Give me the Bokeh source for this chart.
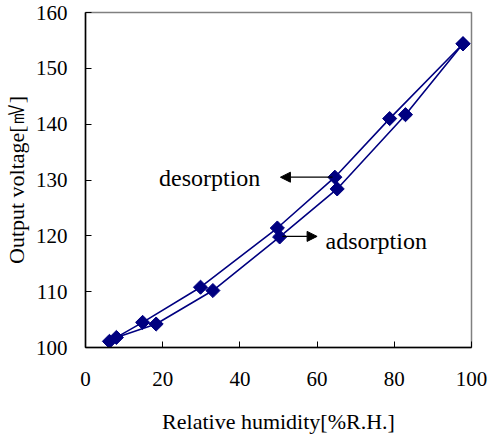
import math
from bokeh.plotting import figure
from bokeh.models import Arrow, NormalHead, Range1d, FixedTicker, ColumnDataSource
from bokeh.core.properties import value
from bokeh.embed import file_html
from bokeh.resources import INLINE

# Data
desorption_rh = [6.2, 14.8, 29.8, 49.7, 64.6, 78.8, 97.8]
desorption_mv = [101.1, 104.5, 110.8, 121.4, 130.5, 141.0, 154.4]
adsorption_rh = [8.0, 18.3, 33.0, 50.3, 65.2, 82.9, 97.8]
adsorption_mv = [101.8, 104.2, 110.2, 119.8, 128.4, 141.7, 154.4]

x_ticks = [0, 20, 40, 60, 80, 100]
y_ticks = [100, 110, 120, 130, 140, 150, 160]

labels = ["desorption", "adsorption"]
label_x = [45.3, 62.2]
label_y = [130.3, 119.0]
label_align = ["right", "left"]

arrow_start_x = [64.0, 51.0]
arrow_end_x = [50.5, 60.0]
arrow_y = [130.5, 119.9]

FONT = "'Liberation Serif', 'Times New Roman', serif"
NAVY = "#000080"

p = figure(width=488, height=437, output_backend="svg", toolbar_location=None,
           x_range=Range1d(0, 100), y_range=Range1d(100, 160),
           min_border_left=85, min_border_right=17, min_border_top=12,
           min_border_bottom=90)
p.background_fill_color = "white"
p.border_fill_color = "white"
p.outline_line_color = "#808080"
p.outline_line_width = 1.5
p.grid.visible = False

for ax in (p.xaxis[0], p.yaxis[0]):
    ax.axis_line_color = "black"
    ax.axis_line_width = 1.5
    ax.major_tick_in = 6
    ax.major_tick_out = 0
    ax.minor_tick_line_color = None
    ax.major_tick_line_color = "black"
    ax.major_label_text_font = FONT
    ax.major_label_text_font_size = "21px"
    ax.major_label_text_color = "black"
    ax.axis_label_text_font = FONT
    ax.axis_label_text_font_size = "22px"
    ax.axis_label_text_font_style = "normal"
    ax.axis_label_text_color = "black"

p.xaxis.ticker = FixedTicker(ticks=x_ticks)
p.yaxis.ticker = FixedTicker(ticks=y_ticks)
p.xaxis.axis_label = "Relative humidity[%R.H.]"
p.yaxis.axis_label = "Output voltage[㎷]"
p.xaxis.major_label_standoff = 24
p.xaxis.axis_label_standoff = 20
p.yaxis.major_label_standoff = 18
p.yaxis.axis_label_standoff = 4

for xs, ys in ((desorption_rh, desorption_mv), (adsorption_rh, adsorption_mv)):
    p.line(xs, ys, line_color=NAVY, line_width=1.6)
    p.scatter(xs, ys, marker="square", size=10, angle=math.pi / 4,
              fill_color=NAVY, line_color=NAVY)

for i in range(2):
    p.add_layout(Arrow(end=NormalHead(size=10, fill_color="black", line_color="black"),
                       x_start=arrow_start_x[i], y_start=arrow_y[i],
                       x_end=arrow_end_x[i], y_end=arrow_y[i],
                       line_color="black", line_width=1.2))

src = ColumnDataSource(dict(x=label_x, y=label_y, t=labels, a=label_align))
p.text(x="x", y="y", text="t", source=src, text_align="a", text_baseline="middle",
       text_font=value(FONT), text_font_size="24px", text_color="black")

open("out.html", "w").write(file_html(p, INLINE))
